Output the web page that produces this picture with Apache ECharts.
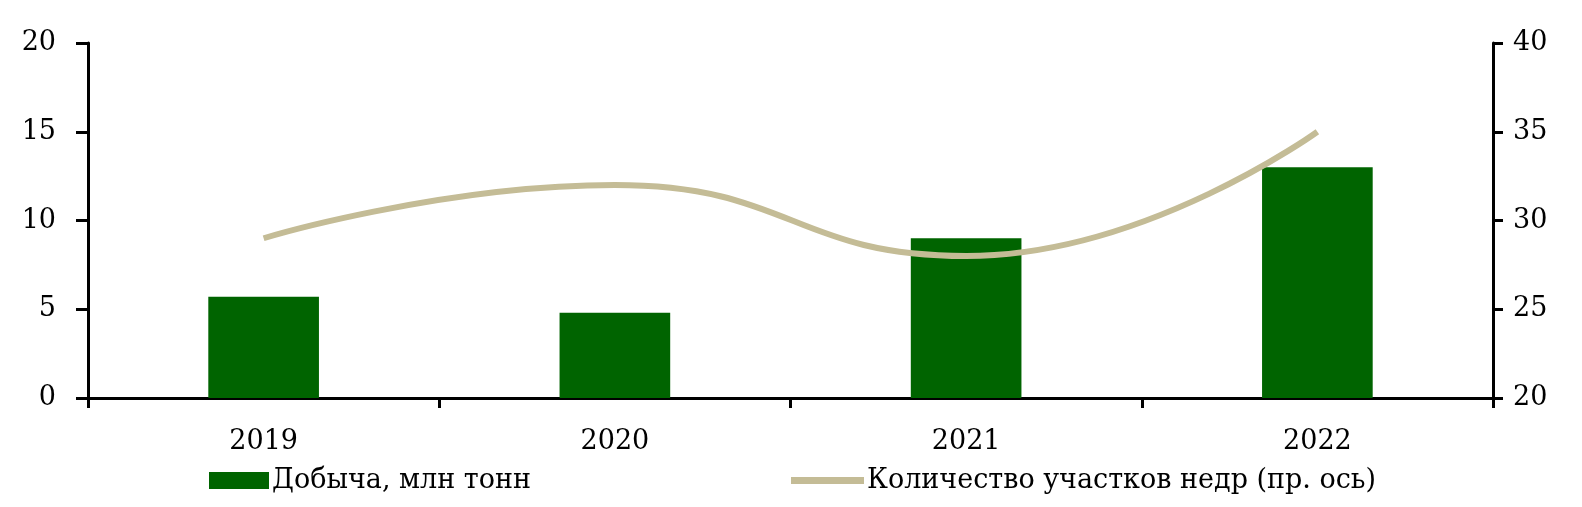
<!DOCTYPE html>
<html>
<head>
<meta charset="utf-8">
<script src="https://cdn.jsdelivr.net/npm/echarts@6/dist/echarts.min.js"></script>
<style>
html,body{margin:0;padding:0;background:#fff;}
#chart{width:1582px;height:507px;}
</style>
</head>
<body>
<div id="chart"></div>
<script>
const categories = ['2019', '2020', '2021', '2022'];
const production = [5.7, 4.8, 9.0, 13.0];
const plots = [29, 32, 28, 35];
const seriesNames = ['Добыча, млн тонн', 'Количество участков недр (пр. ось)'];

const FONT = '"DejaVu Serif", "Liberation Serif", serif';
const chart = echarts.init(document.getElementById('chart'), null, {renderer: 'canvas'});
chart.setOption({
  animation: false,
  backgroundColor: '#fff',
  textStyle: {fontFamily: FONT, color: '#000'},
  grid: {left: 88, right: 89, top: 43, bottom: 109, containLabel: false},
  legend: [
    {data: [seriesNames[0]], left: 204, top: 462, icon: 'rect', itemWidth: 60, itemHeight: 17, itemGap: 4,
     textStyle: {fontFamily: FONT, fontSize: 27, color: '#000', padding: [0,0,0,-2]}},
    {data: [seriesNames[1]], left: 786, top: 462, icon: 'rect', itemWidth: 73, itemHeight: 7, itemGap: 4,
     textStyle: {fontFamily: FONT, fontSize: 27, color: '#000', padding: [0,0,0,-2]}}
  ],
  xAxis: {
    type: 'category', data: categories, boundaryGap: true,
    axisLine: {show: true, lineStyle: {color: '#000', width: 3}},
    axisTick: {show: true, length: 10, lineStyle: {color: '#000', width: 3}},
    axisLabel: {fontFamily: FONT, fontSize: 27, color: '#000', margin: 30},
    splitLine: {show: false}
  },
  yAxis: [
    {type: 'value', min: 0, max: 20, interval: 5, position: 'left',
     axisLine: {show: true, lineStyle: {color: '#000', width: 3}},
     axisTick: {show: true, length: 12, lineStyle: {color: '#000', width: 3}},
     axisLabel: {fontFamily: FONT, fontSize: 27, color: '#000', margin: 32},
     splitLine: {show: false}},
    {type: 'value', min: 20, max: 40, interval: 5, position: 'right',
     axisLine: {show: true, lineStyle: {color: '#000', width: 3}},
     axisTick: {show: true, length: 10, lineStyle: {color: '#000', width: 3}},
     axisLabel: {fontFamily: FONT, fontSize: 27, color: '#000', margin: 20},
     splitLine: {show: false}}
  ],
  series: [
    {name: seriesNames[0], type: 'bar', data: production, yAxisIndex: 0, barWidth: '31.5%',
     itemStyle: {color: '#006400'}},
    {name: seriesNames[1], type: 'line', data: plots, yAxisIndex: 1, smooth: 0.5, symbol: 'none',
     lineStyle: {color: '#c4bc96', width: 6}, itemStyle: {color: '#c4bc96'}}
  ]
});
</script>
</body>
</html>
